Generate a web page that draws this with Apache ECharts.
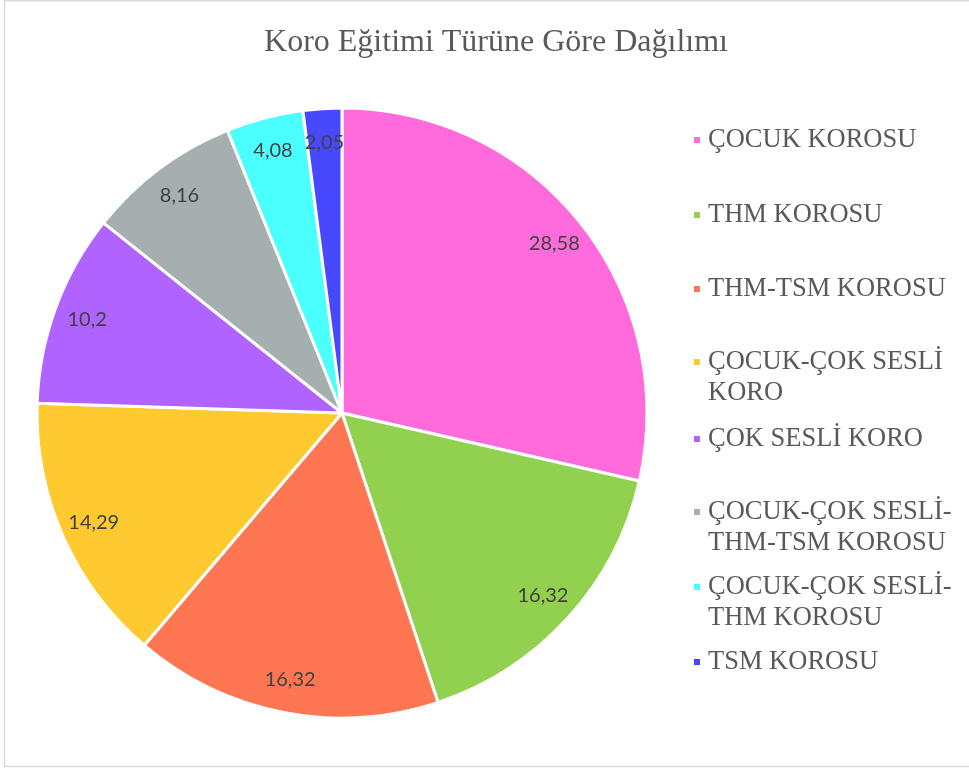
<!DOCTYPE html>
<html>
<head>
<meta charset="utf-8">
<script src="https://cdn.jsdelivr.net/npm/echarts@6/dist/echarts.min.js"></script>
<style>
  html, body { margin: 0; padding: 0; background: #fff; }
  #chart { width: 969px; height: 769px; }
</style>
</head>
<body>
<div id="chart"></div>
<script>
// koro türleri ve yüzdeler
const categories = [
  'ÇOCUK KOROSU',
  'THM KOROSU',
  'THM-TSM KOROSU',
  'ÇOCUK-ÇOK SESLİ KORO',
  'ÇOK SESLİ KORO',
  'ÇOCUK-ÇOK SESLİ-THM-TSM KOROSU',
  'ÇOCUK-ÇOK SESLİ-THM KOROSU',
  'TSM KOROSU'
]
const values = [28.58, 16.32, 16.32, 14.29, 10.2, 8.16, 4.08, 2.05]
// legend'de satır kırılımlı gösterim
const legendLabels = [
  'ÇOCUK KOROSU',
  'THM KOROSU',
  'THM-TSM KOROSU',
  'ÇOCUK-ÇOK SESLİ\nKORO',
  'ÇOK SESLİ KORO',
  'ÇOCUK-ÇOK SESLİ-\nTHM-TSM KOROSU',
  'ÇOCUK-ÇOK SESLİ-\nTHM KOROSU',
  'TSM KOROSU'
]

const colors = ['#FF6BDB', '#92D050', '#FF7752', '#FFCA2F', '#B063FF', '#A5AFAF', '#4CFFFF', '#4848FF']
const legendLineY = [140, 215, 289, 362, 439, 512, 587, 662] // ilk satır ortası
const lineH = 31

const chart = echarts.init(document.getElementById('chart'))

const data = categories.map((name, i) => ({ name: name, value: values[i] }))

const legends = categories.map((name, i) => {
  const multi = legendLabels[i].indexOf('\n') >= 0
  return {
    data: [name],
    orient: 'vertical',
    left: 692,
    // çok satırlıda başa boş satır: ikon ilk satırla hizalı kalsın
    top: multi ? legendLineY[i] - lineH * 1.5 : legendLineY[i] - lineH / 2,
    padding: 0,
    icon: 'rect',
    itemWidth: 8,
    itemHeight: 8,
    selectedMode: false,
    formatter: () => (multi ? '\n' : '') + legendLabels[i],
    textStyle: {
      fontFamily: 'Liberation Serif',
      fontSize: 26.5,
      color: '#595959',
      lineHeight: lineH,
      padding: [0, 0, 0, 2]
    }
  }
})

chart.setOption({
  animation: false,
  color: colors,
  title: {
    text: 'Koro Eğitimi Türüne Göre Dağılımı',
    left: 491,
    top: 22,
    textAlign: 'center',
    textStyle: {
      fontFamily: 'Liberation Serif',
      fontSize: 32,
      fontWeight: 'normal',
      color: '#595959'
    }
  },
  legend: legends,
  graphic: [
    {
      type: 'rect',
      shape: { x: 4.5, y: 0.5, width: 980, height: 766 },
      style: { fill: 'none', stroke: '#D9D9D9', lineWidth: 1.5 },
      silent: true,
      z: -1
    }
  ],
  series: [
    {
      type: 'pie',
      center: [342, 413],
      radius: [0, 305],
      startAngle: 90,
      clockwise: true,
      avoidLabelOverlap: false,
      label: { show: false },
      labelLine: { show: false },
      itemStyle: { borderColor: '#fff', borderWidth: 3 },
      emphasis: { disabled: true },
      data: data
    },
    {
      // sadece veri etiketleri için görünmez halka
      type: 'pie',
      center: [342, 413],
      radius: [232, 305],
      startAngle: 90,
      clockwise: true,
      silent: true,
      avoidLabelOverlap: false,
      itemStyle: { color: 'rgba(0,0,0,0)', borderWidth: 0 },
      labelLine: { show: false },
      label: {
        show: true,
        position: 'inside',
        fontFamily: 'Lato',
        fontSize: 20,
        color: '#404040',
        formatter: p => String(p.value).replace('.', ',')
      },
      emphasis: { disabled: true },
      data: data
    }
  ]
})
</script>
</body>
</html>
